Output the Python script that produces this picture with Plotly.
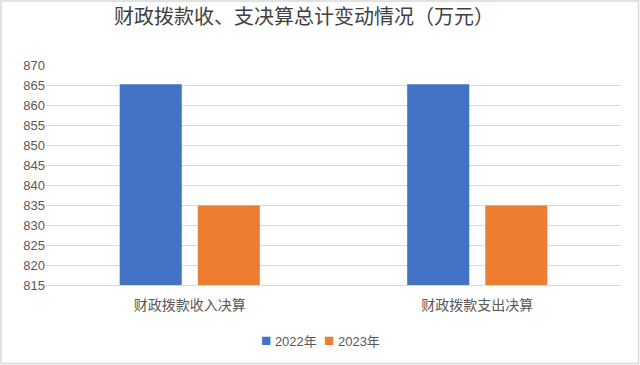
import plotly.graph_objects as go

categories = ["财政拨款收入决算", "财政拨款支出决算"]
series_names = ["2022年", "2023年"]
values_2022 = [865.2, 865.2]
values_2023 = [834.9, 834.9]
colors = ["#4472C4", "#ED7D31"]

L, R, T, B = 46, 19, 65, 80
W, H = 640, 365
pw, ph = W - L - R, H - T - B


def px_x(x):
    return (x - L) / pw


def px_y(y):
    return (T + ph - y) / ph


fig = go.Figure()
for name, vals, col in zip(series_names, [values_2022, values_2023], colors):
    fig.add_trace(go.Bar(x=categories, y=vals, name=name, showlegend=False,
                         marker=dict(color=col, line=dict(width=0))))

legend_text = "&nbsp;&nbsp;".join(
    f'<span style="color:{c};font-size:17px">■</span> {n}' for n, c in zip(series_names, colors)
)

fig.update_layout(
    width=W, height=H,
    margin=dict(l=L, r=R, t=T, b=B, autoexpand=False),
    paper_bgcolor="white", plot_bgcolor="white",
    barmode="group", bargap=0.457, bargroupgap=0.205,
    title=dict(text="财政拨款收、支决算总计变动情况（万元）",
               x=304 / W, xanchor="center", y=1 - 17 / H, yanchor="middle",
               font=dict(family="Noto Sans CJK SC", size=20, color="#404040")),
    font=dict(family="Noto Sans CJK SC", color="#595959"),
    xaxis=dict(showgrid=False, showline=True, linecolor="#d9d9d9", linewidth=1,
               ticks="", tickfont=dict(size=14, color="#595959", family="Noto Sans CJK SC"),
               ticklabelstandoff=7),
    yaxis=dict(range=[815, 870], dtick=5, tick0=815, showgrid=True, gridcolor="#d9d9d9",
               gridwidth=1, zeroline=False, showline=False, ticks="",
               tickfont=dict(size=13, color="#595959", family="Liberation Sans")),
    annotations=[dict(text=legend_text, xref="paper", yref="paper",
                      x=px_x(320), y=px_y(340), xanchor="center", yanchor="middle",
                      showarrow=False,
                      font=dict(size=13, color="#595959", family="Liberation Sans, Noto Sans CJK SC"))],
    shapes=[dict(type="rect", xref="paper", yref="paper",
                 x0=px_x(1), x1=px_x(W - 1.5),
                 y0=px_y(H - 1.5), y1=px_y(1),
                 line=dict(color="#d9d9d9", width=1.5), fillcolor="rgba(0,0,0,0)", layer="below")],
)

fig.write_html("out.html")
